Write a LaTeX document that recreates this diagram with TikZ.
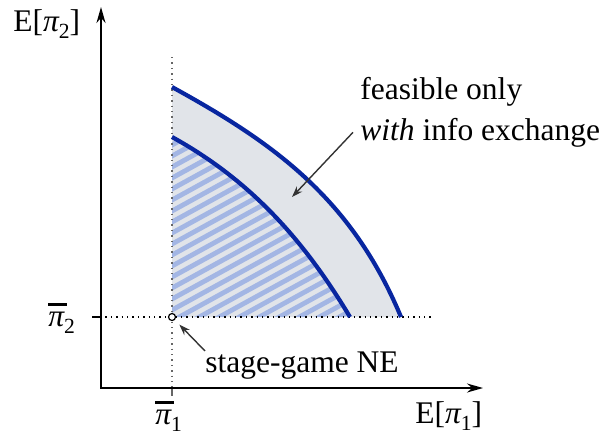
\documentclass[tikz,border=0pt]{standalone}
\usepackage{fontspec}
\setmainfont{Liberation Serif}
\usetikzlibrary{arrows.meta}
\definecolor{curveblue}{RGB}{8,38,160}
\definecolor{fillgray}{RGB}{225,228,233}
\definecolor{hatchblue}{RGB}{163,182,228}
\newcommand\myPi{{\itshape π}}
\newcommand\mySub[1]{\raisebox{-3.8pt}{\fontsize{10.8pt}{11pt}\selectfont #1}}
\newcommand\myPiBar{\leavevmode\rlap{\raisebox{0.63em}{\rule{0.6em}{0.09em}}}\myPi}
\tikzset{
  txt/.style={anchor=base west, inner sep=0pt},
  thinarrow/.style={draw=black!80, line width=0.7pt, -{Stealth[length=5.5pt,width=3.8pt]}},
  curve/.style={draw=curveblue, line width=2.1pt},
  guide/.style={dotted, line width=0.7pt},
  axis/.style={line width=1pt, {Stealth[length=8pt,width=4.5pt]}-{Stealth[length=8pt,width=4.5pt]}}
}
\begin{document}
\begin{tikzpicture}[x=0.5pt,y=-0.5pt, font=\fontsize{15.75pt}{19pt}\selectfont]
\useasboundingbox (0,0) rectangle (604,436);
% gray region
\fill[fillgray] (172,87) .. controls (272,142) and (351,197) .. (401,317) -- (172,317) -- cycle;
% hatching
\begin{scope}
  \clip (172,137) .. controls (252,181) and (305,242) .. (350,317) -- (172,317) -- cycle;
  \foreach \c in {145,156,...,440}
    \draw[hatchblue, line width=2.4pt] (160,\c+6.6) -- ++(220,-121);
\end{scope}
% guides
\draw[guide, draw=black!60] (172,57) -- (172,388);
\draw[line width=0.8pt, draw=black!60] (172,388) -- (172,396);
\draw[guide] (100,317) -- (432,317);
\draw[line width=0.8pt] (92,317) -- (100,317);
% curves
\draw[curve] (172,87) .. controls (272,142) and (351,197) .. (401,317);
\draw[curve] (172,137) .. controls (252,181) and (305,242) .. (350,317);
% axes
\draw[axis] (101,7) -- (101,388) -- (483,388);
% NE point
\node[circle, draw, fill=white, inner sep=0pt, minimum size=3.5pt, line width=0.6pt] (ne) at (172,317) {};
% labels
\node[txt] (ylab) at (13,31) {E[\myPi\mySub{2}]};
\node[txt] (xlab) at (415,423) {E[\myPi\mySub{1}]};
\node[txt] (p2) at (48,326) {\myPiBar\mySub{2}};
\node[txt] (p1) at (155,424) {\myPiBar\mySub{1}};
\node[txt] (nelab) at (205,372) {stage-game NE};
\node[txt] (feas1) at (360,99) {feasible only};
\node[txt] (feas2) at (360,140) {\textit{with} info exchange};
\coordinate (ftip) at (292,197);
\draw[thinarrow] ([xshift=-3.5pt]feas2.west) -- (ftip);
\draw[thinarrow, shorten >=3.2pt] (nelab.north west) -- (ne);
\end{tikzpicture}
\end{document}
